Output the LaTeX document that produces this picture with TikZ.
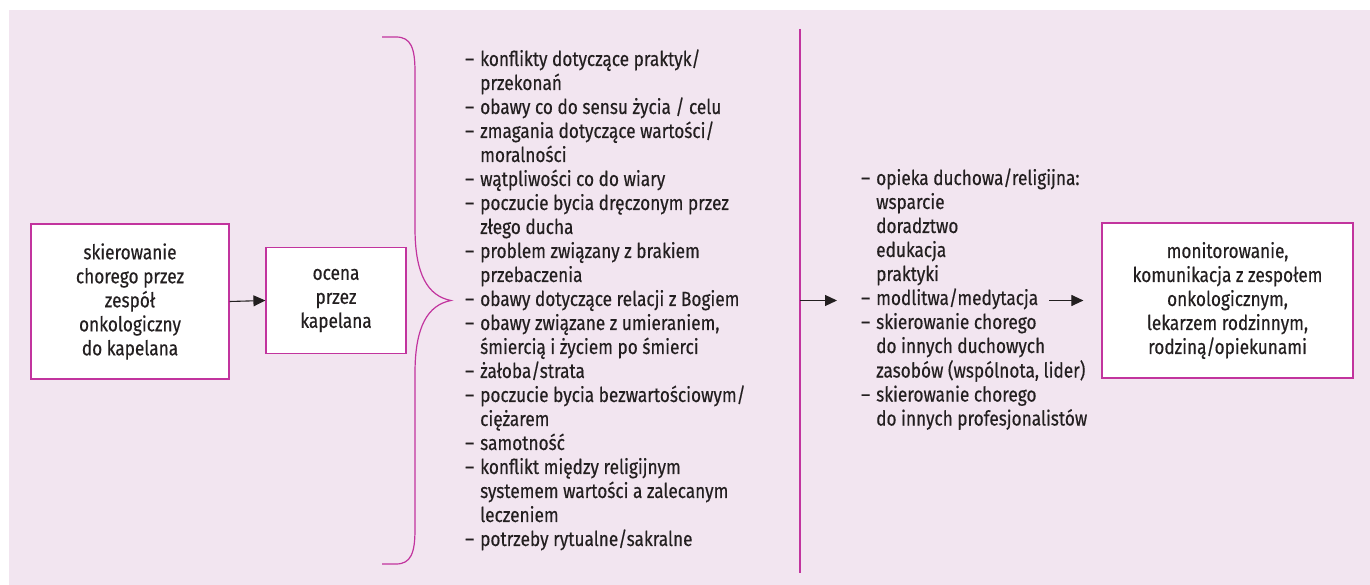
\documentclass[tikz,border=0pt]{standalone}
\usepackage{fontspec}
\setmainfont{Fira Sans}[FakeStretch=0.84,FakeBold=0.4]
\usetikzlibrary{arrows.meta}
\definecolor{bgpink}{RGB}{242,229,240}
\definecolor{magen}{RGB}{194,52,158}
\definecolor{ink}{RGB}{35,31,32}
% dash that opens a list item, with a fixed hanging width
\newcommand\itm{\makebox[15pt][l]{–}}
\begin{document}
\begin{tikzpicture}[x=1pt,y=-1pt,
  font=\fontsize{20.5}{24}\selectfont, text=ink,
  box/.style={draw=magen, line width=1.2pt, fill=white, inner sep=0pt, align=center},
  arr/.style={draw=ink, line width=1.1pt, -{Triangle[length=12pt,width=11pt]}},
  rule/.style={draw=magen, line width=1.2pt},
  list/.style={inner sep=0pt, anchor=base west}]
\useasboundingbox (0,0) rectangle (1370,585);
\fill[bgpink] (9,10) rectangle (1370,585);

% boxes
\node[box, minimum width=198pt, minimum height=155pt] (ref) at (130,301.5)
  {skierowanie\\chorego przez\\zespół\\onkologiczny\\do kapelana};
\node[box, minimum width=140pt, minimum height=106pt] (ocena) at (336,300.5)
  {ocena\\przez\\kapelana};
\node[box, minimum width=251pt, minimum height=155pt] (monit) at (1227.5,300.5)
  {monitorowanie,\\komunikacja z zespołem\\onkologicznym,\\lekarzem rodzinnym,\\rodziną/opiekunami};

\draw[arr] (ref.east) -- (ocena.west);

% brace gathering the needs
\draw[rule] (382,37) -- (396,37) .. controls (411,37) and (415,48) .. (415,72)
  -- (415,228) .. controls (415,275) and (428,296) .. (451,300.5)
  .. controls (428,305) and (415,326) .. (415,373)
  -- (415,529) .. controls (415,553) and (411,564) .. (396,564) -- (382,564);

% list of spiritual needs
\node[list] (needs) at (465,66) {\begin{tabular}[t]{@{}l@{}l@{}}
\itm & konflikty dotyczące praktyk/\\
 & przekonań\\
\itm & obawy co do sensu życia / celu\\
\itm & zmagania dotyczące wartości/\\
 & moralności\\
\itm & wątpliwości co do wiary\\
\itm & poczucie bycia dręczonym przez\\
 & złego ducha\\
\itm & problem związany z brakiem\\
 & przebaczenia\\
\itm & obawy dotyczące relacji z Bogiem\\
\itm & obawy związane z umieraniem,\\
 & śmiercią i życiem po śmierci\\
\itm & żałoba/strata\\
\itm & poczucie bycia bezwartościowym/\\
 & ciężarem\\
\itm & samotność\\
\itm & konflikt między religijnym\\
 & systemem wartości a zalecanym\\
 & leczeniem\\
\itm & potrzeby rytualne/sakralne
\end{tabular}};

% separating rule and arrow to the interventions
\coordinate (vtop) at (800,29);
\coordinate (vbot) at (800,573);
\draw[rule] (vtop) -- (vbot);
\coordinate (a2s) at (800,300.5);
\coordinate (a2e) at (837,300.5);
\draw[arr] (a2s) -- (a2e);

% list of interventions
\node[list] (care) at (861,185) {\begin{tabular}[t]{@{}l@{}l@{}}
\itm & opieka duchowa/religijna:\\
 & wsparcie\\
 & doradztwo\\
 & edukacja\\
 & praktyki\\
\itm & modlitwa/medytacja\\
\itm & skierowanie chorego\\
 & do innych duchowych\\
 & zasobów (wspólnota, lider)\\
\itm & skierowanie chorego\\
 & do innych profesjonalistów
\end{tabular}};

\coordinate (a3s) at (1049,300.5);
\draw[arr] (a3s) -- ([xshift=-18pt]monit.west);
\end{tikzpicture}
\end{document}
